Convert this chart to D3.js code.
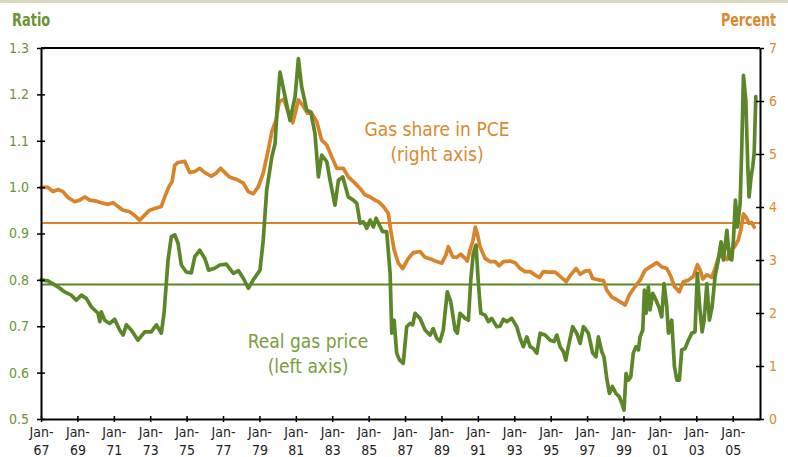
<!DOCTYPE html>
<html>
<head>
<meta charset="utf-8">
<script src="https://cdn.jsdelivr.net/npm/d3@7"></script>
<style>
  body { margin: 0; background: #fff; }
  svg text { font-family: "DejaVu Sans Condensed", "Liberation Sans Narrow", sans-serif; }
</style>
</head>
<body>
<svg id="chart"></svg>
<script>
// Real gas price (ratio, left axis)
const priceYears = [1967.0,1967.38,1967.93,1968.3,1968.66,1968.94,1969.21,1969.49,1969.76,1970.13,1970.23,1970.31,1970.5,1970.77,1971.05,1971.32,1971.51,1971.69,1971.96,1972.33,1972.7,1973.06,1973.34,1973.61,1973.76,1973.98,1974.16,1974.35,1974.53,1974.71,1974.98,1975.26,1975.45,1975.72,1976.0,1976.21,1976.54,1976.82,1977.18,1977.57,1977.84,1978.12,1978.39,1978.66,1979.03,1979.21,1979.4,1979.68,1979.86,1979.98,1980.13,1980.41,1980.68,1980.96,1981.14,1981.32,1981.6,1981.82,1982.05,1982.24,1982.42,1982.7,1982.88,1983.15,1983.34,1983.58,1983.88,1984.16,1984.35,1984.53,1984.71,1984.9,1985.08,1985.26,1985.41,1985.59,1985.77,1985.99,1986.18,1986.27,1986.4,1986.54,1986.7,1986.82,1986.9,1987.09,1987.27,1987.42,1987.55,1987.82,1988.1,1988.37,1988.55,1988.74,1988.92,1989.1,1989.32,1989.51,1989.75,1989.87,1990.02,1990.3,1990.48,1990.61,1990.75,1990.9,1991.03,1991.16,1991.4,1991.58,1991.76,1992.04,1992.22,1992.4,1992.59,1992.86,1993.14,1993.32,1993.5,1993.69,1993.87,1994.05,1994.24,1994.42,1994.69,1994.97,1995.19,1995.34,1995.52,1995.7,1995.83,1995.97,1996.21,1996.43,1996.62,1996.8,1996.89,1997.07,1997.31,1997.49,1997.62,1997.81,1997.93,1998.08,1998.23,1998.39,1998.59,1998.77,1998.91,1999.03,1999.14,1999.27,1999.4,1999.54,1999.69,1999.82,1999.91,2000.06,2000.15,2000.24,2000.37,2000.46,2000.61,2000.79,2000.97,2001.1,2001.23,2001.38,2001.47,2001.65,2001.8,2001.93,2002.07,2002.2,2002.38,2002.57,2002.75,2002.93,2003.06,2003.17,2003.32,2003.43,2003.58,2003.72,2003.87,2004.03,2004.21,2004.36,2004.49,2004.68,2004.82,2004.95,2005.04,2005.15,2005.26,2005.41,2005.5,2005.59,2005.72,2005.83,2005.9,2006.01,2006.1,2006.18,2006.27];
const priceValues = [0.800,0.798,0.785,0.774,0.767,0.756,0.767,0.760,0.742,0.728,0.710,0.731,0.713,0.706,0.715,0.692,0.681,0.703,0.692,0.670,0.688,0.688,0.703,0.685,0.728,0.843,0.893,0.897,0.879,0.832,0.817,0.815,0.850,0.864,0.846,0.821,0.825,0.832,0.834,0.814,0.820,0.803,0.782,0.800,0.821,0.886,0.994,1.065,1.094,1.173,1.248,1.195,1.144,1.195,1.277,1.216,1.166,1.162,1.116,1.022,1.069,1.055,1.015,0.961,1.015,1.022,0.979,0.972,0.965,0.922,0.925,0.911,0.929,0.914,0.933,0.918,0.904,0.904,0.814,0.685,0.713,0.642,0.627,0.623,0.620,0.699,0.706,0.703,0.728,0.717,0.692,0.681,0.695,0.674,0.667,0.692,0.774,0.753,0.692,0.685,0.728,0.717,0.713,0.800,0.857,0.875,0.792,0.728,0.724,0.710,0.717,0.699,0.700,0.715,0.710,0.717,0.699,0.674,0.656,0.677,0.656,0.652,0.642,0.685,0.681,0.670,0.667,0.681,0.656,0.645,0.627,0.656,0.699,0.685,0.663,0.699,0.695,0.685,0.642,0.634,0.677,0.645,0.634,0.588,0.555,0.570,0.555,0.548,0.534,0.519,0.598,0.584,0.591,0.642,0.656,0.649,0.677,0.692,0.778,0.728,0.785,0.735,0.771,0.756,0.739,0.720,0.792,0.742,0.685,0.713,0.613,0.584,0.584,0.649,0.652,0.670,0.685,0.688,0.814,0.749,0.688,0.713,0.792,0.713,0.742,0.807,0.843,0.882,0.843,0.907,0.846,0.843,0.886,0.972,0.914,0.965,1.087,1.241,1.188,1.044,0.979,1.022,1.044,1.073,1.195];

// Gas share in PCE (percent, right axis)
const shareYears = [1967.0,1967.38,1967.66,1967.93,1968.21,1968.48,1968.85,1969.13,1969.4,1969.68,1970.04,1970.31,1970.68,1970.96,1971.23,1971.51,1971.87,1972.15,1972.42,1972.7,1972.97,1973.34,1973.61,1973.8,1974.02,1974.2,1974.35,1974.53,1974.9,1975.17,1975.45,1975.72,1976.0,1976.36,1976.63,1976.87,1977.18,1977.38,1977.75,1978.12,1978.39,1978.66,1978.94,1979.21,1979.49,1979.68,1979.91,1980.09,1980.35,1980.59,1980.83,1981.01,1981.14,1981.38,1981.63,1981.87,1982.15,1982.42,1982.7,1982.97,1983.25,1983.61,1983.88,1984.25,1984.53,1984.8,1985.08,1985.35,1985.53,1985.81,1986.08,1986.21,1986.4,1986.63,1986.87,1987.18,1987.46,1987.82,1988.1,1988.47,1988.74,1989.02,1989.24,1989.38,1989.62,1989.84,1990.06,1990.3,1990.42,1990.57,1990.72,1990.86,1990.97,1991.12,1991.4,1991.67,1991.95,1992.16,1992.4,1992.77,1993.04,1993.32,1993.59,1993.87,1994.14,1994.38,1994.6,1994.87,1995.24,1995.52,1995.85,1996.1,1996.4,1996.62,1996.89,1997.13,1997.31,1997.71,1997.9,1998.08,1998.36,1998.63,1998.91,1999.09,1999.32,1999.64,1999.91,2000.19,2000.46,2000.83,2001.1,2001.38,2001.6,2001.8,2002.07,2002.29,2002.57,2002.84,2003.06,2003.21,2003.36,2003.58,2003.85,2004.03,2004.27,2004.45,2004.68,2004.86,2005.08,2005.31,2005.45,2005.59,2005.77,2005.9,2006.03,2006.18];
const shareValues = [4.37,4.37,4.29,4.33,4.29,4.18,4.10,4.13,4.19,4.13,4.11,4.08,4.05,4.08,4.01,3.94,3.91,3.84,3.75,3.85,3.94,3.98,4.01,4.19,4.38,4.48,4.79,4.84,4.86,4.65,4.67,4.73,4.65,4.58,4.64,4.73,4.62,4.56,4.52,4.45,4.29,4.25,4.38,4.64,5.08,5.42,5.64,5.99,6.03,5.77,5.59,5.83,6.02,5.92,5.77,5.77,5.61,5.26,5.17,4.95,4.73,4.73,4.57,4.45,4.35,4.23,4.19,4.13,4.10,4.01,3.88,3.57,3.19,2.94,2.84,3.03,3.14,3.16,3.05,3.01,2.97,2.94,3.09,3.25,3.06,3.05,3.11,3.03,2.98,3.19,3.35,3.62,3.50,3.25,3.03,2.97,2.97,2.89,2.97,2.98,2.95,2.84,2.78,2.78,2.72,2.67,2.78,2.77,2.77,2.69,2.59,2.72,2.84,2.73,2.79,2.80,2.65,2.62,2.61,2.43,2.30,2.25,2.19,2.15,2.34,2.50,2.62,2.81,2.87,2.95,2.87,2.84,2.69,2.50,2.40,2.59,2.62,2.69,2.91,2.81,2.64,2.72,2.67,2.84,3.11,3.06,3.01,3.19,3.24,3.38,3.57,3.87,3.79,3.69,3.71,3.62];

// long-run averages shown as flat lines
const priceAverage = 0.79;
const shareAverage = 3.70;

const xTickYears = d3.range(1967, 2006, 2);
const leftTicks = [0.5, 0.6, 0.7, 0.8, 0.9, 1.0, 1.1, 1.2, 1.3];
const rightTicks = [0, 1, 2, 3, 4, 5, 6, 7];

const width = 788, height = 457;
const margin = { top: 48, right: 28, bottom: 38, left: 41 };
const green = "#5c8729", orange = "#d9832a";
const greenText = "#6c9433", orangeText = "#d98a2e";

const svg = d3.select("#chart").attr("width", width).attr("height", height);

// beige band along the top edge
svg.append("rect").attr("x", 0).attr("y", 0).attr("width", width).attr("height", 3).attr("fill", "#dcd8bf");

const x = d3.scaleLinear().domain([1967, 2006.5]).range([margin.left, width - margin.right]);
const yLeft = d3.scaleLinear().domain([0.5, 1.3]).range([height - margin.bottom, margin.top]);
const yRight = d3.scaleLinear().domain([0, 7]).range([height - margin.bottom, margin.top]);

// average lines
svg.append("line")
  .attr("x1", x.range()[0]).attr("x2", x.range()[1])
  .attr("y1", yRight(shareAverage)).attr("y2", yRight(shareAverage))
  .attr("stroke", orange).attr("stroke-width", 2);
svg.append("line")
  .attr("x1", x.range()[0]).attr("x2", x.range()[1])
  .attr("y1", yLeft(priceAverage)).attr("y2", yLeft(priceAverage))
  .attr("stroke", green).attr("stroke-width", 2);

// series
const shareLine = d3.line().x((d, i) => x(shareYears[i])).y(d => yRight(d));
const priceLine = d3.line().x((d, i) => x(priceYears[i])).y(d => yLeft(d));

svg.append("path").datum(shareValues)
  .attr("d", shareLine)
  .attr("fill", "none").attr("stroke", orange).attr("stroke-width", 3.7)
  .attr("stroke-linejoin", "round").attr("stroke-linecap", "round");

svg.append("path").datum(priceValues)
  .attr("d", priceLine)
  .attr("fill", "none").attr("stroke", green).attr("stroke-width", 3.7)
  .attr("stroke-linejoin", "round").attr("stroke-linecap", "round");

// frame top line
svg.append("line")
  .attr("x1", x.range()[0]).attr("x2", x.range()[1])
  .attr("y1", margin.top).attr("y2", margin.top)
  .attr("stroke", "#000").attr("stroke-width", 2);

// axes
const leftAxis = svg.append("g")
  .attr("transform", `translate(${margin.left},0)`)
  .call(d3.axisLeft(yLeft).tickValues(leftTicks).tickFormat(d3.format(".1f")).tickSizeOuter(0));
leftAxis.selectAll(".tick line").attr("x2", 4).attr("x1", -4);
leftAxis.selectAll(".tick text").attr("x", -12).attr("fill", greenText).style("font-size", "14px");

const rightAxis = svg.append("g")
  .attr("transform", `translate(${width - margin.right},0)`)
  .call(d3.axisRight(yRight).tickValues(rightTicks).tickFormat(d3.format("d")).tickSizeOuter(0));
rightAxis.selectAll(".tick line").attr("x1", -4).attr("x2", 4);
rightAxis.selectAll(".tick text").attr("x", 9).attr("fill", orangeText).style("font-size", "14px");

const bottomAxis = svg.append("g")
  .attr("transform", `translate(0,${height - margin.bottom})`)
  .call(d3.axisBottom(x).tickValues(xTickYears).tickFormat("").tickSizeOuter(0));
bottomAxis.selectAll(".tick line").attr("y1", -3).attr("y2", 3);
bottomAxis.selectAll(".tick").append("text")
  .attr("fill", "#222").attr("text-anchor", "middle").style("font-size", "14px")
  .each(function(d) {
    const t = d3.select(this);
    t.append("tspan").attr("x", 0).attr("y", 18).text("Jan-");
    t.append("tspan").attr("x", 0).attr("y", 36).text(String(d % 100).padStart(2, "0"));
  });

[leftAxis, rightAxis, bottomAxis].forEach(g => {
  g.select(".domain").attr("stroke", "#000").attr("stroke-width", 2);
  g.selectAll(".tick line").attr("stroke", "#000").attr("stroke-width", 1.5);
});

// axis titles, squeezed horizontally like the condensed original face
svg.append("text").attr("transform", "translate(12,26) scale(0.8,1)")
  .attr("fill", greenText).style("font-size", "18px").style("font-weight", "bold")
  .text("Ratio");
svg.append("text").attr("transform", "translate(776,26) scale(0.78,1)")
  .attr("text-anchor", "end")
  .attr("fill", orangeText).style("font-size", "18px").style("font-weight", "bold")
  .text("Percent");

// series annotations
const shareNote = svg.append("text").attr("text-anchor", "middle")
  .attr("fill", orangeText).style("font-size", "19px");
shareNote.append("tspan").attr("x", 437).attr("y", 136).text("Gas share in PCE");
shareNote.append("tspan").attr("x", 437).attr("y", 161).text("(right axis)");

const priceNote = svg.append("text").attr("text-anchor", "middle")
  .attr("fill", "#7a9e3c").style("font-size", "19px");
priceNote.append("tspan").attr("x", 308).attr("y", 348).text("Real gas price");
priceNote.append("tspan").attr("x", 308).attr("y", 373).text("(left axis)");
</script>
</body>
</html>
